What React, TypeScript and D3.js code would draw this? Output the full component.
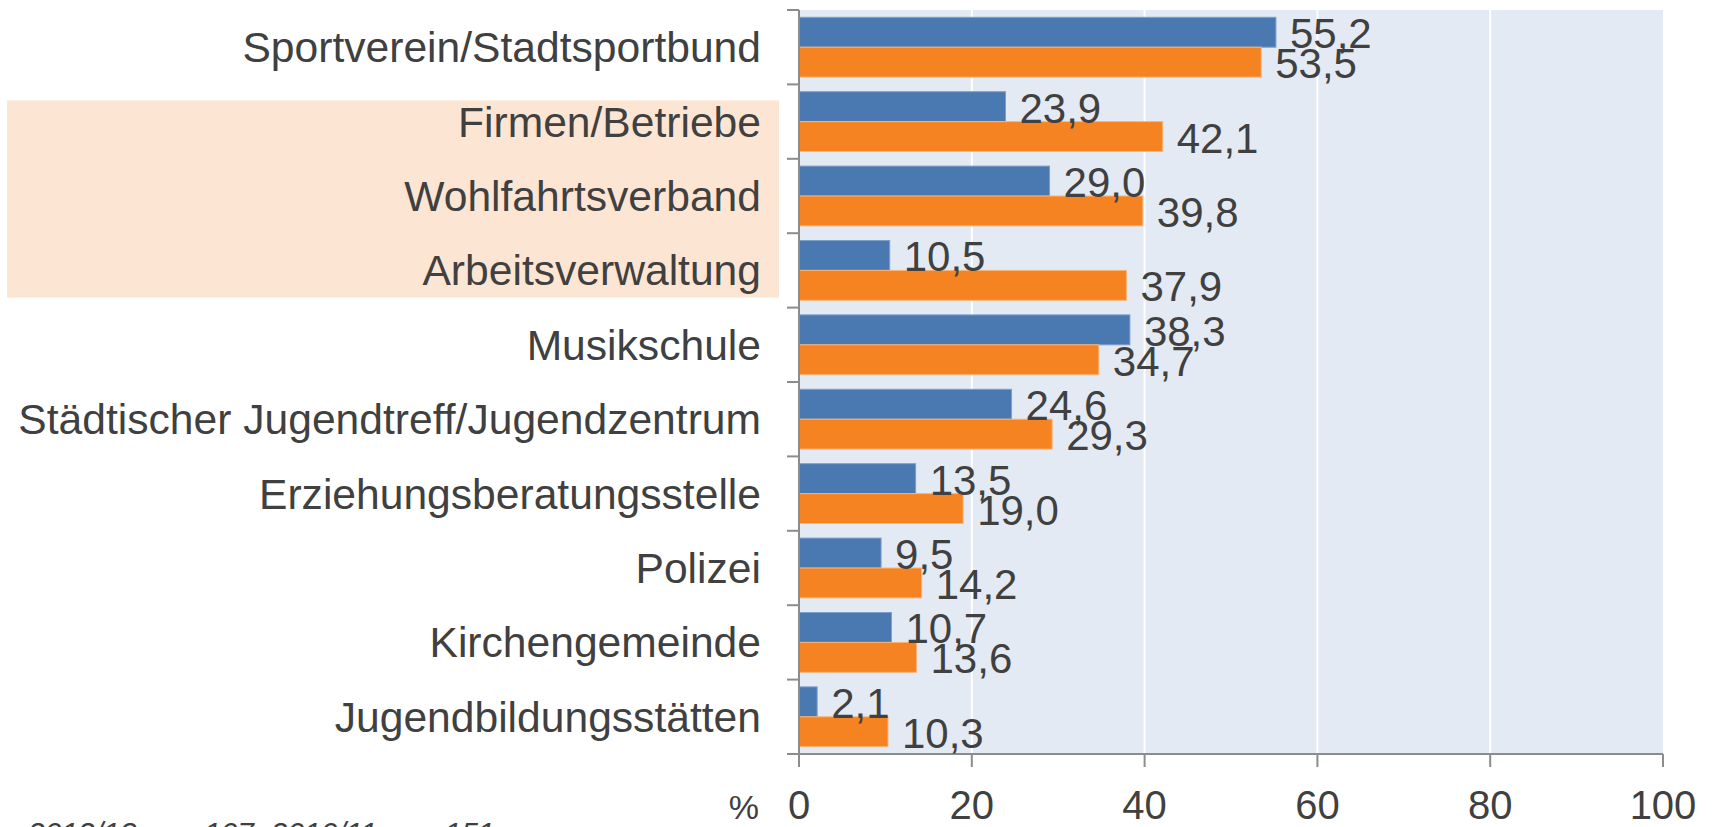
import React from "react";
import * as d3 from "d3";

const categories = [
  "Sportverein/Stadtsportbund",
  "Firmen/Betriebe",
  "Wohlfahrtsverband",
  "Arbeitsverwaltung",
  "Musikschule",
  "Städtischer Jugendtreff/Jugendzentrum",
  "Erziehungsberatungsstelle",
  "Polizei",
  "Kirchengemeinde",
  "Jugendbildungsstätten",
];
const series2012 = [55.2, 23.9, 29.0, 10.5, 38.3, 24.6, 13.5, 9.5, 10.7, 2.1];
const series2010 = [53.5, 42.1, 39.8, 37.9, 34.7, 29.3, 19.0, 14.2, 13.6, 10.3];
const xTicks = [0, 20, 40, 60, 80, 100];
const highlighted = ["Firmen/Betriebe", "Wohlfahrtsverband", "Arbeitsverwaltung"];
const footnote = "2012/13: n = 107, 2010/11: n = 151";
const unitLabel = "%";

const W = 1714;
const H = 827;
const margin = { left: 799, right: 51, top: 10, bottom: 73 };
const BLUE = "#4a78b0";
const ORANGE = "#f58322";
const TEXT = "#404040";
const AXIS = "#8c8c8c";
const FONT = "'Liberation Sans', Arial, sans-serif";

export default function App() {
  const x = d3.scaleLinear().domain([0, 100]).range([margin.left, W - margin.right]);
  const y = d3
    .scaleBand<string>()
    .domain(categories)
    .range([margin.top, H - margin.bottom])
    .paddingInner(0)
    .paddingOuter(0);
  const bw = y.bandwidth();
  const pad = bw * 0.098;
  const barH = (bw - 2 * pad) / 2;
  const x0 = x(0);
  const plotTop = margin.top;
  const plotBottom = H - margin.bottom;

  const hlTop = (y(highlighted[0]) as number) + 16;
  const hlBottom = (y(highlighted[highlighted.length - 1]) as number) + bw - 10;

  const boundaries = d3.range(categories.length + 1).map((i) => margin.top + i * bw);
  const fmt = (v: number) => d3.format(".1f")(v).replace(".", ",");

  return (
    <svg
      width={W}
      height={H}
      style={{ position: "absolute", left: 0, top: 0, display: "block" }}
      fontFamily={FONT}
    >
      <rect x={0} y={0} width={W} height={H} fill="#ffffff" />
      {/* highlight */}
      <rect x={7} y={hlTop} width={x0 - 20 - 7} height={hlBottom - hlTop} fill="#fde5d3" />
      {/* plot background */}
      <rect x={x0} y={plotTop} width={x(100) - x0} height={plotBottom - plotTop} fill="#e4eaf3" />
      {/* gridlines */}
      {xTicks
        .filter((t) => t > 0 && t < 100)
        .map((t) => (
          <line key={"g" + t} x1={x(t)} x2={x(t)} y1={plotTop} y2={plotBottom} stroke="#ffffff" strokeWidth={2} />
        ))}
      {/* bars */}
      {categories.map((c, i) => {
        const y0 = (y(c) as number) + pad;
        return (
          <g key={c}>
            <rect
              x={x0}
              y={y0}
              width={x(series2012[i]) - x0}
              height={barH}
              fill={BLUE}
              stroke="#7f9fcb"
              strokeWidth={1}
            />
            <rect
              x={x0}
              y={y0 + barH}
              width={x(series2010[i]) - x0}
              height={barH}
              fill={ORANGE}
              stroke="#f8b57a"
              strokeWidth={1}
            />
          </g>
        );
      })}
      {/* axes */}
      <line x1={x0} x2={x0} y1={plotTop} y2={plotBottom} stroke={AXIS} strokeWidth={2} />
      {boundaries.map((b, i) => (
        <line key={"yt" + i} x1={x0 - 12} x2={x0} y1={b} y2={b} stroke={AXIS} strokeWidth={2} />
      ))}
      <line x1={x0 - 12} x2={x(100)} y1={plotBottom} y2={plotBottom} stroke={AXIS} strokeWidth={2} />
      {xTicks.map((t) => (
        <line key={"xt" + t} x1={x(t)} x2={x(t)} y1={plotBottom} y2={plotBottom + 13} stroke={AXIS} strokeWidth={2} />
      ))}
      {/* value labels */}
      {categories.map((c, i) => {
        const y0 = (y(c) as number) + pad;
        return (
          <g key={"v" + c} fill={TEXT} fontSize={42}>
            <text x={x(series2012[i]) + 14} y={y0 + barH + 1}>
              {fmt(series2012[i])}
            </text>
            <text x={x(series2010[i]) + 14} y={y0 + 2 * barH + 1}>
              {fmt(series2010[i])}
            </text>
          </g>
        );
      })}
      {/* category labels */}
      {categories.map((c) => (
        <text
          key={"c" + c}
          x={x0 - 38}
          y={(y(c) as number) + bw / 2 + 15}
          textAnchor="end"
          fontSize={42.6}
          fill={TEXT}
        >
          {c}
        </text>
      ))}
      {/* x tick labels */}
      {xTicks.map((t) => (
        <text key={"xl" + t} x={x(t)} y={819} textAnchor="middle" fontSize={40} fill={TEXT}>
          {t}
        </text>
      ))}
      <text x={759} y={819} textAnchor="end" fontSize={34} fill={TEXT}>
        {unitLabel}
      </text>
      <text x={28} y={843} fontSize={30} fontStyle="italic" fill={TEXT}>
        {footnote}
      </text>
    </svg>
  );
}
